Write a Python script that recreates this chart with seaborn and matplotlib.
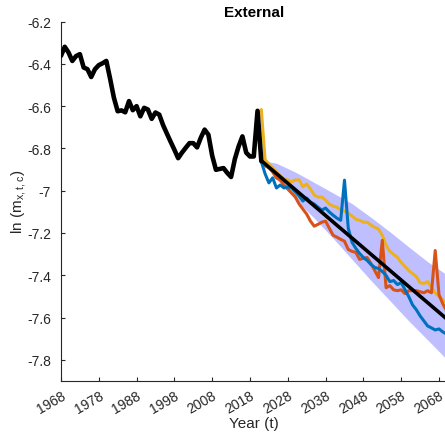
import matplotlib
matplotlib.use("Agg")
import matplotlib.pyplot as plt
import pandas as pd
import seaborn as sns

# Observed log death rates
hist_years = list(range(1968, 2022))
hist_values = [
    -6.362, -6.319, -6.346, -6.386, -6.363, -6.354, -6.417, -6.425, -6.462, -6.425,
    -6.406, -6.397, -6.386, -6.470, -6.560, -6.624, -6.620, -6.629, -6.576, -6.619,
    -6.600, -6.648, -6.608, -6.616, -6.660, -6.630, -6.640, -6.689, -6.729, -6.768,
    -6.806, -6.846, -6.820, -6.797, -6.775, -6.775, -6.795, -6.749, -6.711, -6.735,
    -6.834, -6.901, -6.897, -6.893, -6.916, -6.935, -6.850, -6.790, -6.743, -6.820,
    -6.838, -6.838, -6.622, -6.860,
]

# Simulated paths
proj_years = list(range(2021, 2071))
proj_yellow = [
    -6.616, -6.854, -6.873, -6.892, -6.911, -6.930, -6.944, -6.949, -6.958, -6.949,
    -6.949, -6.982, -6.968, -6.992, -7.020, -7.030, -7.030, -7.044, -7.063, -7.073,
    -7.078, -7.092, -7.097, -7.106, -7.120, -7.135, -7.140, -7.149, -7.149, -7.163,
    -7.173, -7.182, -7.211, -7.258, -7.287, -7.301, -7.315, -7.340, -7.359, -7.378,
    -7.392, -7.406, -7.435, -7.439, -7.430, -7.458, -7.483, -7.501, -7.516, -7.530,
]
proj_orange = [
    -6.859, -6.882, -6.892, -6.911, -6.940, -6.949, -6.973, -6.992, -7.011, -7.030,
    -7.063, -7.087, -7.111, -7.144, -7.168, -7.159, -7.149, -7.144, -7.178, -7.211,
    -7.220, -7.230, -7.239, -7.278, -7.287, -7.292, -7.325, -7.320, -7.316, -7.344,
    -7.378, -7.411, -7.235, -7.459, -7.449, -7.469, -7.473, -7.469, -7.487, -7.473,
    -7.473, -7.473, -7.478, -7.483, -7.473, -7.483, -7.283, -7.492, -7.535, -7.568,
]
proj_blue = [
    -6.863, -6.920, -6.963, -6.939, -6.987, -6.973, -6.987, -6.982, -6.987, -7.006,
    -7.025, -7.049, -7.035, -7.054, -7.063, -7.078, -7.092, -7.082, -7.101, -7.116,
    -7.130, -7.140, -6.950, -7.178, -7.244, -7.273, -7.297, -7.316, -7.330, -7.349,
    -7.363, -7.368, -7.382, -7.401, -7.430, -7.425, -7.444, -7.435, -7.468, -7.501,
    -7.540, -7.563, -7.592, -7.616, -7.640, -7.649, -7.659, -7.654, -7.668, -7.678,
]

# Central forecast and prediction interval
trend_years = [2021, 2070]
trend_values = [-6.858, -7.606]
band_years = [2021, 2025, 2030, 2035, 2040, 2045, 2050, 2055, 2060, 2065, 2070]
band_upper = [-6.856, -6.870, -6.912, -6.961, -7.011, -7.061, -7.126, -7.194, -7.266, -7.336, -7.397]
band_lower = [-6.858, -6.944, -7.040, -7.130, -7.225, -7.325, -7.425, -7.520, -7.616, -7.706, -7.797]

x_ticks = list(range(1968, 2069, 10))
y_ticks = [-6.2, -6.4, -6.6, -6.8, -7.0, -7.2, -7.4, -7.6, -7.8]
y_tick_labels = ["-6.2", "-6.4", "-6.6", "-6.8", "-7", "-7.2", "-7.4", "-7.6", "-7.8"]

sns.set_style("ticks")
plt.rcParams["font.family"] = ["Liberation Sans", "DejaVu Sans"]
plt.rcParams["mathtext.default"] = "regular"

axis_color = "#262626"
fig = plt.figure(figsize=(4.45, 4.35), dpi=100)
ax = fig.add_axes([0.137, 0.122, 0.8665, 0.826])

ax.fill_between(band_years, band_lower, band_upper, color="#0000ff", alpha=0.25,
                linewidth=0, zorder=1)

paths = pd.DataFrame({
    "year": proj_years * 3,
    "value": proj_yellow + proj_orange + proj_blue,
    "path": ["yellow"] * len(proj_years) + ["orange"] * len(proj_years) + ["blue"] * len(proj_years),
})
palette = {"yellow": "#EDB120", "orange": "#D95319", "blue": "#0072BD"}
for name in ["yellow", "orange", "blue"]:
    sns.lineplot(data=paths[paths["path"] == name], x="year", y="value",
                 color=palette[name], linewidth=2.2, ax=ax, legend=False,
                 estimator=None, zorder=3)

sns.lineplot(x=hist_years, y=hist_values, color="black", linewidth=3.3, ax=ax,
             estimator=None, zorder=4)
sns.lineplot(x=trend_years, y=trend_values, color="black", linewidth=2.6, ax=ax,
             estimator=None, zorder=5)

ax.set_xlim(1968, 2070)
ax.set_ylim(-7.9, -6.2)
ax.set_xticks(x_ticks)
ax.set_xticklabels([str(t) for t in x_ticks], rotation=30, ha="right",
                   rotation_mode="anchor")
ax.set_yticks(y_ticks)
ax.set_yticklabels(y_tick_labels)
ax.tick_params(axis="both", direction="in", length=3, width=0.8, colors=axis_color,
               labelsize=10)
ax.tick_params(axis="x", pad=5)
ax.tick_params(axis="y", pad=7)

for side in ["top", "right"]:
    ax.spines[side].set_visible(False)
for side in ["left", "bottom"]:
    ax.spines[side].set_color(axis_color)
    ax.spines[side].set_linewidth(0.8)

ax.set_xlabel("Year (t)", fontsize=11, color=axis_color, labelpad=0)
ax.set_ylabel("ln (m$_{x,t,c}$)", fontsize=11, color=axis_color)
ax.yaxis.set_label_coords(-0.085, 0.5)
ax.set_title("External", fontsize=11, fontweight="bold", color="black", pad=4)

fig.savefig("out.png", dpi=100)
